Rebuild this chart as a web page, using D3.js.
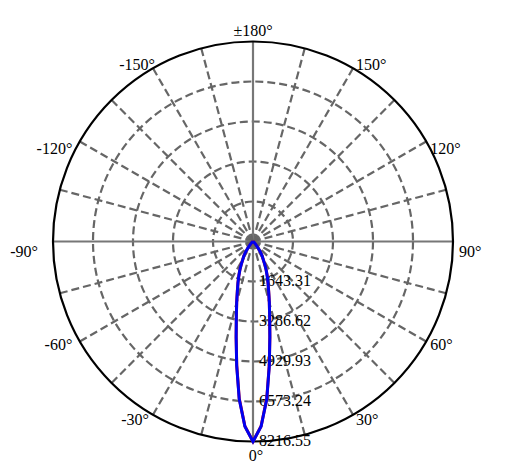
<!DOCTYPE html>
<html>
<head>
<meta charset="utf-8">
<script src="https://cdn.jsdelivr.net/npm/d3@7"></script>
<style>
  body { margin: 0; background: #fff; }
  text { font-family: "Liberation Serif", "Times New Roman", serif; font-size: 16px; fill: #000; }
</style>
</head>
<body>
<div id="chart"></div>
<script>
// data
var ringValues = [1643.31, 3286.62, 4929.93, 6573.24, 8216.55];
var angleTicks = [-150, -120, -90, -60, -30, 0, 30, 60, 90, 120, 150, 180];
var gridAngles = d3.range(0, 360, 15);

// half curve, angle (deg) -> intensity, mirrored to the other side
var beamAngles = [0, 2.5, 5, 7.5, 10, 12.5, 15, 17.5, 20, 22.5, 25, 27.5, 30, 32.5, 35, 37.5, 40, 45, 50, 60, 70, 90, 120, 150, 180];
var beamC0 =     [8216.55, 7600, 6480, 5120, 3990, 3160, 2590, 2140, 1810, 1520, 1270, 1030, 820, 700, 530, 370, 250, 120, 60, 20, 0, 0, 0, 0, 0];
var beamC90 =    [8216.55, 7610, 6500, 5140, 3985, 3165, 2590, 2135, 1805, 1520, 1275, 1025, 825, 695, 535, 370, 245, 125, 60, 20, 0, 0, 0, 0, 0];

var width = 507, height = 476;
var cx = 253, cy = 241.5, R = 200;

var svg = d3.select("#chart")
  .append("svg")
    .attr("width", width)
    .attr("height", height)
  .append("g")
    .attr("transform", "translate(" + cx + "," + cy + ")");

var r = d3.scaleLinear()
  .domain([0, d3.max(ringValues)])
  .range([0, R]);

function rad(a) { return a * Math.PI / 180; }
// 0 deg points down, positive angles go to the right
function px(a, d) { return d * Math.sin(rad(a)); }
function py(a, d) { return d * Math.cos(rad(a)); }

// dashed rings
svg.selectAll("ring")
  .data(ringValues.slice(0, -1))
  .enter()
  .append("circle")
    .attr("r", function(d) { return r(d); })
    .attr("fill", "none")
    .attr("stroke", "#666")
    .attr("stroke-width", 2.2)
    .attr("stroke-dasharray", "8,4");

// spokes, the four main ones are solid
svg.selectAll("spoke")
  .data(gridAngles)
  .enter()
  .append("line")
    .attr("x1", 0)
    .attr("y1", 0)
    .attr("x2", function(a) { return px(a, R); })
    .attr("y2", function(a) { return py(a, R); })
    .attr("stroke", function(a) { return a % 90 == 0 ? "#777" : "#666"; })
    .attr("stroke-width", 2.2)
    .attr("stroke-dasharray", function(a) { return a % 90 == 0 ? null : "8,4"; });

// outer circle
svg.append("circle")
  .attr("r", r(d3.max(ringValues)))
  .attr("fill", "none")
  .attr("stroke", "#000")
  .attr("stroke-width", 2.2);

// ring labels
svg.selectAll("ringlabel")
  .data(ringValues)
  .enter()
  .append("text")
    .attr("x", 6)
    .attr("y", function(d) { return r(d) - 1; })
    .attr("dominant-baseline", "central")
    .text(function(d) { return d.toFixed(2); });

// angle labels
function labelDx(a) {
  var s = Math.sin(rad(a));
  if (Math.abs(s) < 0.01) return 3;
  if (s > 0) return 3 + 3 * Math.pow(s, 8);
  return a == -150 ? 2 : -(4 + 11 * Math.pow(-s, 8));
}
function labelDy(a) {
  switch (Math.abs(a)) {
    case 180: return -11.5;
    case 150: return -3.5;
    case 120: return 7;
    case 90: return 9.5;
    case 60: return 2.5;
    case 30: return 4.5;
    default: return 13.5;
  }
}
svg.selectAll("anglelabel")
  .data(angleTicks)
  .enter()
  .append("text")
    .attr("x", function(a) { return px(a, R) + (Math.abs(a) % 180 == 0 ? (a == 0 ? 3 : 0) : labelDx(a)); })
    .attr("y", function(a) { return py(a, R) + labelDy(a); })
    .attr("dominant-baseline", "central")
    .attr("text-anchor", function(a) {
      var s = Math.sin(rad(a));
      return Math.abs(s) < 0.01 ? "middle" : (s > 0 ? "start" : "end");
    })
    .text(function(a) { return (a == 180 ? "±180" : a) + "°"; });

// build full closed curves from the half curves
function fullCurve(vals) {
  var pts = [];
  for (var i = beamAngles.length - 1; i > 0; i--) pts.push([-beamAngles[i], vals[i]]);
  for (var j = 0; j < beamAngles.length; j++) pts.push([beamAngles[j], vals[j]]);
  return pts;
}

var line = d3.lineRadial()
  .angle(function(d) { return Math.PI - rad(d[0]); })
  .radius(function(d) { return r(d[1]); });

svg.append("path")
  .datum(fullCurve(beamC0))
  .attr("d", line)
  .attr("fill", "none")
  .attr("stroke", "#e00000")
  .attr("stroke-width", 3);

svg.append("path")
  .datum(fullCurve(beamC90))
  .attr("d", line)
  .attr("fill", "none")
  .attr("stroke", "#0000f0")
  .attr("stroke-width", 3);
</script>
</body>
</html>
